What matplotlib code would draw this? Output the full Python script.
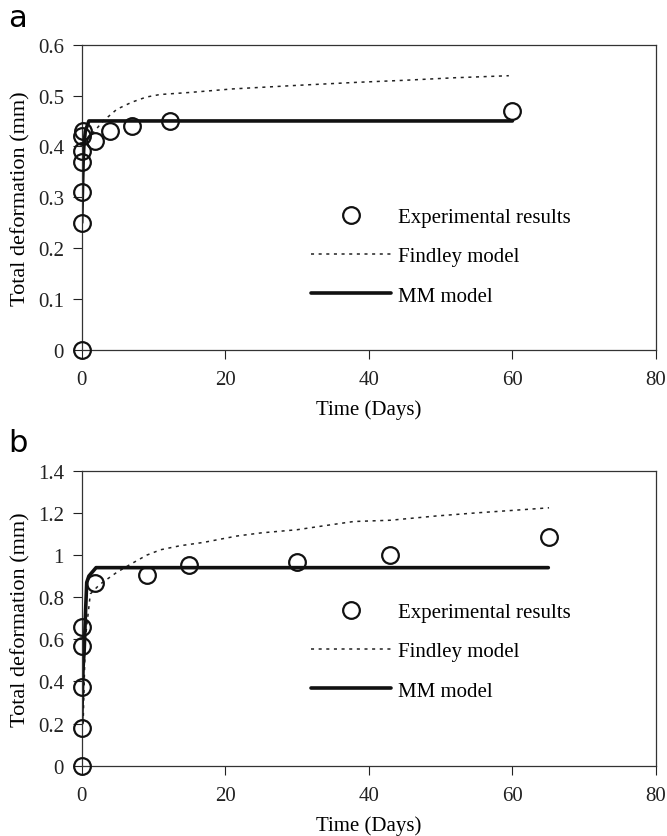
import matplotlib.pyplot as plt

plt.rcParams['font.family'] = 'Liberation Serif'
plt.rcParams['font.size'] = 15

# (a) measured points and model curves
exp_a_t = [0, 0, 0, 0, 0, 0.1, 0.2, 1.9, 4, 7, 12.3, 60]
exp_a_d = [0, 0.25, 0.31, 0.37, 0.39, 0.42, 0.43, 0.41, 0.43, 0.44, 0.45, 0.47]
find_a_t = [0.3, 0.8, 1.6, 3, 4.9, 7, 9, 10.9, 15, 21, 30, 38.4, 45, 52, 59.5]
find_a_d = [0.40, 0.415, 0.427, 0.45, 0.473, 0.487, 0.497, 0.502, 0.506, 0.513, 0.52, 0.526, 0.53, 0.535, 0.539]
mm_a_t = [0, 0.1, 0.2, 0.3, 0.5, 1.0, 60]
mm_a_d = [0.25, 0.31, 0.37, 0.40, 0.43, 0.45, 0.45]

# (b)
exp_b_t = [0, 0, 0, 0, 0, 1.9, 9.1, 15, 30, 42.9, 65.1]
exp_b_d = [0, 0.18, 0.375, 0.57, 0.66, 0.867, 0.907, 0.952, 0.967, 0.998, 1.085]
find_b_t = [0.2, 0.5, 1.2, 2.5, 4.9, 7, 9.1, 11, 13.7, 17, 21.6, 25, 30, 34, 37.9, 43, 49.3, 55, 59.7, 65.1]
find_b_d = [0.2, 0.6, 0.815, 0.86, 0.918, 0.96, 1.0, 1.025, 1.044, 1.06, 1.09, 1.105, 1.12, 1.14, 1.159, 1.165, 1.185, 1.2, 1.211, 1.224]
mm_b_t = [0, 0.1, 0.2, 0.35, 0.5, 0.7, 1.0, 2.0, 65]
mm_b_d = [0.2, 0.35, 0.47, 0.55, 0.7, 0.87, 0.9, 0.94, 0.94]

panels = [
    ('a', exp_a_t, exp_a_d, find_a_t, find_a_d, mm_a_t, mm_a_d,
     [0.1225, 0.581, 0.861, 0.3644], 0.6, 0.1, (0.384, 0.494), 0.9677),
    ('b', exp_b_t, exp_b_d, find_b_t, find_b_d, mm_b_t, mm_b_d,
     [0.1225, 0.084, 0.861, 0.3524], 1.4, 0.2, (0.384, 0.582), 0.46),
]

fig = plt.figure(figsize=(6.67, 8.37), dpi=100)

for tag, et, ed, ft, fd, mt, md, rect, ymax, ystep, anchor, tag_y in panels:
    ax = fig.add_axes(rect)
    ln_f, = ax.plot(ft, fd, color='#222222', lw=1.1, dashes=(2, 3))
    ln_m, = ax.plot(mt, md, color='#111111', lw=2.6, solid_capstyle='round')
    ln_e, = ax.plot(et, ed, 'o', mfc='none', mec='#111111', ms=12, mew=1.6,
                    clip_on=False, zorder=5)
    ax.set_xlim(0, 80)
    ax.set_ylim(0, ymax)
    ax.set_xticks([0, 20, 40, 60, 80])
    n = int(round(ymax / ystep))
    yt = [round(i * ystep, 1) for i in range(n + 1)]
    ax.set_yticks(yt)
    ax.set_yticklabels(['%g' % v for v in yt])
    ax.tick_params(direction='out', length=6.3, width=0.8,
                   colors='#222222', labelsize=15)
    ax.tick_params(axis='x', pad=8)
    ax.tick_params(axis='y', pad=6.5)
    for s in ax.spines.values():
        s.set_color('#333333')
        s.set_linewidth(0.9)
    ax.set_xlabel('Time (Days)', labelpad=8)
    ax.set_ylabel('Total deformation (mm)', labelpad=5, fontsize=16)
    ax.legend([ln_e, ln_f, ln_m],
              ['Experimental results', 'Findley model', 'MM model'],
              frameon=False, loc='upper left', bbox_to_anchor=anchor,
              handlelength=3.85, handletextpad=0.34, labelspacing=0.95,
              numpoints=1, borderaxespad=0, fontsize=15)
    fig.text(0.012, tag_y, tag, family='DejaVu Sans', fontsize=22,
             va='baseline')

fig.savefig('out.png', dpi=100)
